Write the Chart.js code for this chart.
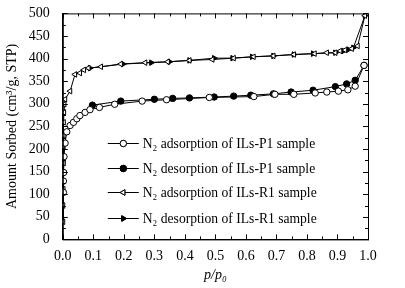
<!DOCTYPE html>
<html>
<head>
<meta charset="utf-8">
<script src="https://cdn.jsdelivr.net/npm/chart.js@4"></script>
<style>
  html, body { margin: 0; padding: 0; background: #fff; }
  #wrap { width: 405px; height: 288px; }
</style>
</head>
<body>
<div id="wrap"><canvas id="iso"></canvas></div>
<script>
// P1 sample, adsorption branch
const p1AdsX = [0.002, 0.002, 0.003, 0.004, 0.0075, 0.013, 0.024, 0.035, 0.046, 0.056, 0.073, 0.089, 0.12, 0.17, 0.26, 0.34, 0.48, 0.626, 0.695, 0.757, 0.827, 0.865, 0.903, 0.934, 0.958, 0.987]
const p1AdsY = [104, 129, 148, 183, 213, 238, 252, 259, 267, 274, 281, 287, 292, 299, 306, 309, 314, 316, 321, 321, 324, 326, 328, 331, 339, 385]
// P1 sample, desorption branch
const p1DesX = [0.097, 0.19, 0.30, 0.36, 0.415, 0.496, 0.56, 0.616, 0.69, 0.748, 0.82, 0.893, 0.93, 0.958, 0.987]
const p1DesY = [297, 306, 310, 312, 313, 315, 317, 319, 322, 326, 330, 338, 344, 352, 385]
// R1 sample, adsorption branch
const r1AdsX = [0.001, 0.001, 0.002, 0.003, 0.002, 0.002, 0.003, 0.004, 0.005, 0.0075, 0.024, 0.040, 0.056, 0.069, 0.084, 0.125, 0.19, 0.27, 0.344, 0.415, 0.49, 0.56, 0.625, 0.69, 0.757, 0.825, 0.865, 0.893, 0.909, 0.925, 0.947, 0.966, 0.99]
const r1AdsY = [39, 75, 111, 169, 205, 230, 259, 281, 299, 310, 328, 365, 368, 375, 379, 382, 388, 391, 393, 396, 398, 401, 404, 406, 409, 411, 413, 413, 417, 419, 422, 428, 495]
// R1 sample, desorption branch
const r1DesX = [0.089, 0.198, 0.29, 0.35, 0.415, 0.496, 0.556, 0.62, 0.69, 0.757, 0.82, 0.893, 0.92, 0.936, 0.952, 0.99]
const r1DesY = [379, 388, 391, 393, 396, 401, 401, 404, 406, 409, 411, 413, 417, 420, 424, 495]

const labels = [
    'N\u2082 adsorption of ILs-P1 sample',
    'N\u2082 desorption of ILs-P1 sample',
    'N\u2082 adsorption of ILs-R1 sample',
    'N\u2082 desorption of ILs-R1 sample'
]

const FONT = '"Liberation Serif", "Times New Roman", serif'

const pairs = (xs, ys) => xs.map((x, i) => ({ x: x, y: ys[i] }))

const series = [
    { data: pairs(p1AdsX, p1AdsY), style: 'circle', rot: 0, fill: '#fff' },
    { data: pairs(p1DesX, p1DesY), style: 'circle', rot: 0, fill: '#000' },
    { data: pairs(r1AdsX, r1AdsY), style: 'triangle', rot: -90, fill: '#fff' },
    { data: pairs(r1DesX, r1DesY), style: 'triangle', rot: 90, fill: '#000' }
]

// frame with inward ticks on all four sides + inset legend
const framePlugin = {
    id: 'frame',
    afterDraw(chart) {
        const ctx = chart.ctx
        const a = chart.chartArea
        const xs = chart.scales.x
        const ys = chart.scales.y
        ctx.save()
        ctx.strokeStyle = '#000'
        ctx.lineWidth = 1
        ctx.strokeRect(a.left + 0.5, a.top + 0.5, a.right - a.left, a.bottom - a.top)
        ctx.beginPath()
        for (let v = 0; v <= 1.0001; v += 0.05) {
            const px = Math.round(xs.getPixelForValue(v)) + 0.5
            const major = Math.abs(v * 10 - Math.round(v * 10)) < 1e-6
            const len = major ? 5 : 3
            ctx.moveTo(px, a.bottom); ctx.lineTo(px, a.bottom - len)
            ctx.moveTo(px, a.top); ctx.lineTo(px, a.top + len)
        }
        for (let v = 0; v <= 500; v += 25) {
            const py = Math.round(ys.getPixelForValue(v)) + 0.5
            const len = v % 50 === 0 ? 5 : 3
            ctx.moveTo(a.left, py); ctx.lineTo(a.left + len, py)
            ctx.moveTo(a.right, py); ctx.lineTo(a.right - len, py)
        }
        ctx.stroke()

        // legend
        const lx = a.left + 45
        const rowY = [143, 168, 192, 218]
        ctx.font = '13.6px ' + FONT
        ctx.textBaseline = 'middle'
        series.forEach((s, i) => {
            const y = rowY[i] + 0.5
            ctx.beginPath()
            ctx.moveTo(lx, y); ctx.lineTo(lx + 31, y)
            ctx.stroke()
            ctx.fillStyle = s.fill
            Chart.helpers.drawPoint(ctx, {
                pointStyle: s.style, rotation: s.rot, radius: 3.2, borderWidth: 1
            }, lx + 15.5, y)
            ctx.fill()
            ctx.stroke()
            ctx.fillStyle = '#000'
            ctx.fillText(labels[i], lx + 35, y + 1)
        })
        ctx.restore()
    }
}

const render = () => {
    new Chart(document.getElementById('iso'), {
        type: 'line',
        data: {
            datasets: series.map((s, i) => ({
                label: labels[i],
                data: s.data,
                borderColor: '#000',
                borderWidth: 1,
                backgroundColor: s.fill,
                pointStyle: s.style,
                pointRotation: s.rot,
                pointRadius: 3.2,
                pointBorderWidth: 1,
                pointBorderColor: '#000',
                pointBackgroundColor: s.fill,
                tension: 0
            }))
        },
        options: {
            responsive: true,
            maintainAspectRatio: false,
            animation: false,
            layout: { padding: { top: 2, right: 37, left: 4, bottom: 2 } },
            plugins: { legend: { display: false }, tooltip: { enabled: false } },
            scales: {
                x: {
                    type: 'linear',
                    min: 0, max: 1.0,
                    grid: { display: false },
                    border: { display: true, color: '#000' },
                    ticks: {
                        stepSize: 0.1,
                        color: '#000',
                        font: { family: FONT, size: 14 },
                        padding: 1,
                        maxRotation: 0,
                        callback: v => v.toFixed(1)
                    },
                    title: {
                        display: true,
                        text: 'p/p\u2080',
                        color: '#000',
                        padding: { top: 1, bottom: 2 },
                        font: { family: FONT, size: 14, style: 'italic' }
                    }
                },
                y: {
                    min: 0, max: 500,
                    grid: { display: false },
                    border: { display: true, color: '#000' },
                    ticks: {
                        stepSize: 50,
                        color: '#000',
                        font: { family: FONT, size: 14 },
                        padding: 5
                    },
                    title: {
                        display: true,
                        text: 'Amount Sorbed (cm\u00b3/g, STP)',
                        color: '#000',
                        padding: { top: 0, bottom: 3 },
                        font: { family: FONT, size: 14 }
                    }
                }
            }
        },
        plugins: [framePlugin]
    })
}

document.addEventListener('DOMContentLoaded', render)
</script>
</body>
</html>
